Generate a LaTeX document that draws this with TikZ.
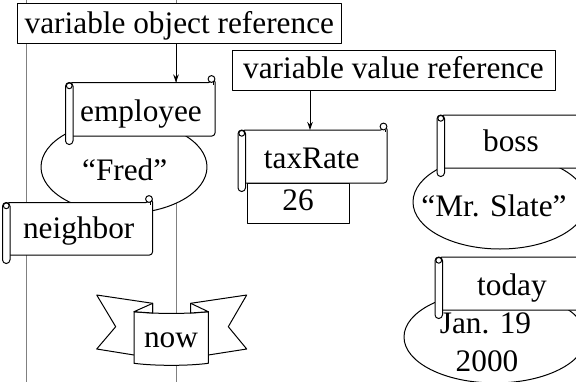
\documentclass[tikz,border=0pt]{standalone}
\usepackage{fontspec}
\setmainfont{Liberation Serif}
\usetikzlibrary{shapes.geometric,arrows.meta}

\tikzset{
  ink/.style={line width=1pt, line join=round},
  guide/.style={draw=black!50, line width=0.9pt},
  lbl/.style={anchor=base, inner sep=0pt, font=\fontsize{31.3}{36}\selectfont},
  tagbox/.style={ink, draw, fill=white, anchor=base, inner sep=0pt,
                 font=\fontsize{31.3}{36}\selectfont},
  oval/.style={ink, draw, fill=white, ellipse, inner sep=0pt},
  ptr/.style={ink, -{Stealth[length=8pt,width=5.5pt]}},
}

% Scroll: #1 left of roll, #2 top, #3 right edge, #4 bottom of the sheet
\newcommand\drawscroll[4]{%
  % sheet, with its top-right corner running into the curl
  \path[ink, draw, fill=white, rounded corners=3]
    ({#1+4},#2) -- ({#3-3.5},#2) -- ({#3-3.5},{#2-3.5}) -- (#3,{#2-3.5})
    -- (#3,#4) -- ({#1+4},#4) -- cycle;
  % curl at the top right
  \path[ink, draw, fill=white] ({#3-3.5},{#2-3.5}) circle[radius=3.4];
  \draw[ink] ({#3-1.6},{#2-0.5}) -- ({#3-1.6},{#2+2});
  % rolled left edge
  \path[ink, draw, fill=white, rounded corners=3.7]
    (#1,#2) rectangle ({#1+7.5},{#4+8.5});
  \path[ink, draw, fill=white] ({#1+3.75},{#2+3.3}) circle[radius=2.9];
}

\begin{document}
\begin{tikzpicture}[x=1pt,y=-1pt]
\path[use as bounding box] (0,0) rectangle (576,381);
\clip (0,0) rectangle (576,381);

% guide lines
\draw[guide] (26,-5) -- (26,390);
\draw[guide] (176,-5) -- (176,390);

% object reference
\node[tagbox, minimum width=324.7, text height=30, text depth=9.7]
  (objref) at (179.35,33.3) {variable object reference};
\coordinate (empTop) at (176,82.5);
\draw[ptr] (objref.south -| empTop) -- (empTop);

% employee / neighbor on the "Fred" object
\node[oval, minimum width=166, minimum height=93] (fredOval) at (124,167) {};
\drawscroll{65.5}{82.5}{215}{136}
\node[lbl] (employee) at (141,121.7) {employee};
\node[lbl] (fred) at (124.7,180.7) {“Fred”};
\drawscroll{2.5}{202.5}{152.5}{255}
\node[lbl] (neighbor) at (78.7,238.3) {neighbor};

% value reference
\node[tagbox, minimum width=323, text height=27.6, text depth=11.7]
  (valref) at (393.5,78.3) {variable value reference};
\coordinate (taxTop) at (310,130);
\draw[ptr] (valref.south -| taxTop) -- (taxTop);
\node[tagbox, minimum width=102, text height=27, text depth=13]
  (taxval) at (298,210) {26};
\drawscroll{238}{130}{387}{183}
\node[lbl] (taxRate) at (311.7,168.3) {taxRate};

% boss
\node[oval, minimum width=174, minimum height=94] (slateOval) at (500,202) {};
\drawscroll{437}{115}{590}{168}
\node[lbl] (boss) at (511,151) {boss};
\node[lbl] (slate) at (494,216.7) {“Mr. Slate”};

% today
\node[oval, minimum width=182, minimum height=92] (dateOval) at (495,337) {};
\drawscroll{435}{257}{590}{310}
\node[lbl] (today) at (512,295) {today};
\node[lbl] (janDay) at (485.5,333.3) {Jan. 19};
\node[lbl] (janYear) at (487,371.7) {2000};

% "now" banner
\path[ink, draw, fill=white]
  (96.7,295) -- (152.7,303.3) -- (152.7,340) -- (134,355) -- (96.7,349)
  -- (115.7,326.7) -- cycle;
\path[ink, draw, fill=white]
  (246.7,295) -- (190.7,303.3) -- (190.7,340) -- (208.3,355) -- (246.7,349)
  -- (228.3,326.7) -- cycle;
\path[ink, draw, fill=white]
  (134,311.7) .. controls (155,314) and (188,314) .. (208.3,311.7)
  -- (208.3,363.3) .. controls (188,366) and (155,366) .. (134,363.3) -- cycle;
\path[ink, draw, fill=white] (134,311.7) -- (152.7,303.3) -- (152.7,313) -- cycle;
\path[ink, draw, fill=white] (208.3,311.7) -- (190.7,303.3) -- (190.7,313) -- cycle;
\node[lbl] (now) at (171,347.3) {now};
\end{tikzpicture}
\end{document}
